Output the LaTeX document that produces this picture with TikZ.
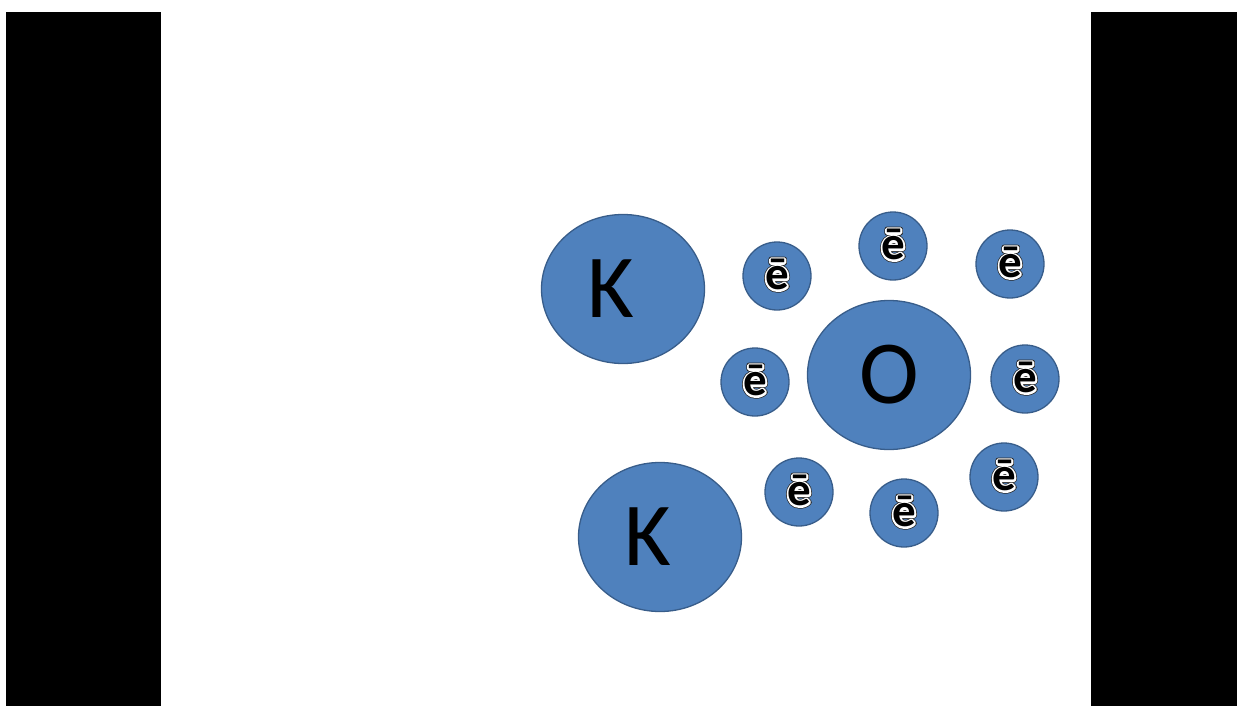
\documentclass[tikz,border=0pt]{standalone}
\usepackage{fontspec}
\setmainfont{Carlito}
\usetikzlibrary{shapes.geometric}
\definecolor{ionfill}{HTML}{4F81BD}
\definecolor{iondraw}{HTML}{385D8A}
\newcommand\outlined[1]{\raisebox{3pt}{\rlap{\special{pdf:literal direct 1 Tr 5.2 w 1 J 1 j 0.15 0.15 0.15 RG}#1\special{pdf:literal direct 0 Tr}}\rlap{\special{pdf:literal direct 1 Tr 3.8 w 1 J 1 j 1 1 1 RG}#1\special{pdf:literal direct 0 Tr}}#1}}
\tikzset{
  bar/.style={fill=black, draw=none},
  atom/.style={ellipse, fill=ionfill, draw=iondraw, line width=1.3pt, inner sep=0pt,
    minimum width=163pt, minimum height=149pt, font=\fontsize{90}{90}\selectfont, text=black},
  electron/.style={circle, fill=ionfill, draw=iondraw, line width=1.3pt, inner sep=0pt,
    minimum size=68pt, font=\fontsize{47}{47}\selectfont\bfseries, text=black},
}
\begin{document}
\begin{tikzpicture}[x=1pt, y=-1pt]
\useasboundingbox (0,0) rectangle (1237,706);
\fill[white] (0,0) rectangle (1237,706);
\path[bar] (6,12) rectangle (161,706);
\path[bar] (1091,12) rectangle (1237,706);
\node[atom] (k1) at (623,289) {\raisebox{-3pt}{K}\hspace*{24pt}};
\node[atom] (k2) at (660,537) {\raisebox{-3pt}{K}\hspace*{24pt}};
\node[atom] (o) at (889,375) {O};
\node[electron] (e1) at (777,276) {\outlined{ē}};
\node[electron] (e2) at (893,246) {\outlined{ē}};
\node[electron] (e3) at (1010,264) {\outlined{ē}};
\node[electron] (e4) at (755,382) {\outlined{ē}};
\node[electron] (e5) at (1025,379) {\outlined{ē}};
\node[electron] (e6) at (799,492) {\outlined{ē}};
\node[electron] (e7) at (904,513) {\outlined{ē}};
\node[electron] (e8) at (1004,477) {\outlined{ē}};
\end{tikzpicture}
\end{document}
